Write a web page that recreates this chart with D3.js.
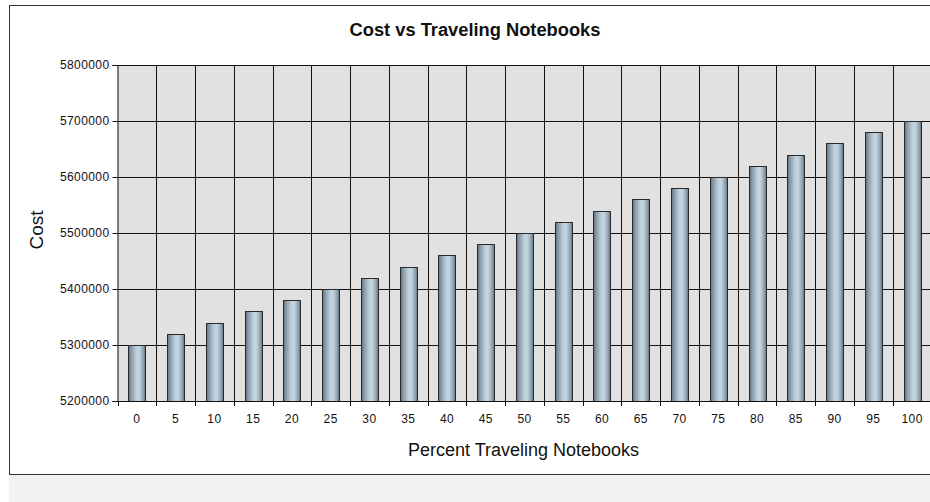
<!DOCTYPE html>
<html>
<head>
<meta charset="utf-8">
<script src="https://cdn.jsdelivr.net/npm/d3@7"></script>
<style>
  html, body { margin: 0; padding: 0; background: #ffffff; }
  svg { display: block; }
  text { font-family: "Liberation Sans", Arial, sans-serif; fill: #111; }
</style>
</head>
<body>
<svg id="chart" width="930" height="502"></svg>
<script>
// Percent of notebooks that travel, and the resulting cost
const percents = [0, 5, 10, 15, 20, 25, 30, 35, 40, 45, 50, 55, 60, 65, 70, 75, 80, 85, 90, 95, 100];
const costs = [5300000, 5320000, 5340000, 5360000, 5380000, 5400000, 5420000, 5440000, 5460000, 5480000,
               5500000, 5520000, 5540000, 5560000, 5580000, 5600000, 5620000, 5640000, 5660000, 5680000, 5700000];
const costTicks = [5200000, 5300000, 5400000, 5500000, 5600000, 5700000, 5800000];

const chartTitle = "Cost vs Traveling Notebooks";
const xTitle = "Percent Traveling Notebooks";
const yTitle = "Cost";

const svg = d3.select("#chart");
const W = 930, H = 502;

// light strip under the chart frame
svg.append("rect").attr("x", 9).attr("y", 475).attr("width", W - 9).attr("height", H - 475).attr("fill", "#f2f2f2");

// chart frame (right edge runs past the viewport)
svg.append("rect").attr("x", 9.5).attr("y", 5.5).attr("width", 980).attr("height", 469)
  .attr("fill", "#ffffff").attr("stroke", "#333").attr("stroke-width", 1);

const plot = { left: 117.5, right: 931.5, top: 65, bottom: 401 };

const x = d3.scaleBand().domain(percents).range([plot.left, plot.right]).padding(0);
const y = d3.scaleLinear().domain([5200000, 5800000]).range([plot.bottom, plot.top]);

// bar gradient: dark edges, pale blue centre
const defs = svg.append("defs");
const grad = defs.append("linearGradient").attr("id", "barGrad").attr("x1", "0").attr("x2", "1").attr("y1", "0").attr("y2", "0");
[[0, "#5e6e7c"], [0.15, "#8799a8"], [0.45, "#bccfdc"], [0.62, "#c4d6e2"], [0.85, "#93a6b5"], [1, "#5e6e7c"]]
  .forEach(([o, c]) => grad.append("stop").attr("offset", o).attr("stop-color", c));

// plot background
svg.append("rect").attr("x", plot.left).attr("y", plot.top)
  .attr("width", plot.right - plot.left).attr("height", plot.bottom - plot.top)
  .attr("fill", "#e1e1e1");

const grid = svg.append("g").attr("stroke", "#111").attr("stroke-width", 1);
// horizontal grid at each cost tick
grid.selectAll("line.h").data(costTicks).join("line").attr("class", "h")
  .attr("x1", plot.left).attr("x2", plot.right)
  .attr("y1", d => Math.round(y(d)) + 0.5).attr("y2", d => Math.round(y(d)) + 0.5);
// vertical grid at category boundaries
grid.selectAll("line.v").data(percents.slice(1)).join("line").attr("class", "v")
  .attr("y1", plot.top).attr("y2", plot.bottom)
  .attr("x1", d => Math.round(x(d)) + 0.5).attr("x2", d => Math.round(x(d)) + 0.5);

// bars
const barW = x.bandwidth() * 0.44;
svg.append("g").selectAll("rect").data(percents).join("rect")
  .attr("x", (d) => Math.round(x(d) + (x.bandwidth() - barW) / 2) + 0.5)
  .attr("y", (d, i) => Math.round(y(costs[i])) + 0.5)
  .attr("width", Math.round(barW))
  .attr("height", (d, i) => y(5200000) - Math.round(y(costs[i])))
  .attr("fill", "url(#barGrad)")
  .attr("stroke", "#2a2a2a").attr("stroke-width", 1);

// y axis
const yAxis = d3.axisLeft(y).tickValues(costTicks).tickSize(5).tickPadding(3).tickFormat(d3.format("d"));
const gy = svg.append("g").attr("transform", `translate(${plot.left},0)`).call(yAxis);
gy.select(".domain").attr("stroke", "#111");
gy.selectAll(".tick line").attr("stroke", "#111");
gy.selectAll(".tick text").attr("font-size", 12).attr("letter-spacing", "0.4px").attr("fill", "#222")
  .attr("font-family", "'Liberation Sans', Arial, sans-serif");

// x axis: labels at band centres, ticks at band boundaries
const gx = svg.append("g").attr("transform", `translate(0,${plot.bottom})`);
gx.append("line").attr("x1", plot.left).attr("x2", plot.right).attr("y1", 0.5).attr("y2", 0.5).attr("stroke", "#111");
gx.selectAll("line.t").data(percents).join("line").attr("class", "t")
  .attr("x1", d => Math.round(x(d)) + 0.5).attr("x2", d => Math.round(x(d)) + 0.5)
  .attr("y1", 0).attr("y2", 5).attr("stroke", "#111");
gx.selectAll("text").data(percents).join("text")
  .attr("x", d => x(d) + x.bandwidth() / 2).attr("y", 22)
  .attr("text-anchor", "middle").attr("font-size", 12).attr("letter-spacing", "0.4px").attr("fill", "#222")
  .text(d => d);

// titles
svg.append("text").attr("x", 475).attr("y", 36).attr("text-anchor", "middle")
  .attr("font-size", 18.3).attr("font-weight", "bold").text(chartTitle);
svg.append("text").attr("x", (plot.left + plot.right) / 2 - 1).attr("y", 456).attr("text-anchor", "middle")
  .attr("font-size", 18).attr("fill", "#333").text(xTitle);
svg.append("text").attr("transform", "translate(43,230) rotate(-90)").attr("text-anchor", "middle")
  .attr("font-size", 19).attr("fill", "#333").text(yTitle);
</script>
</body>
</html>
